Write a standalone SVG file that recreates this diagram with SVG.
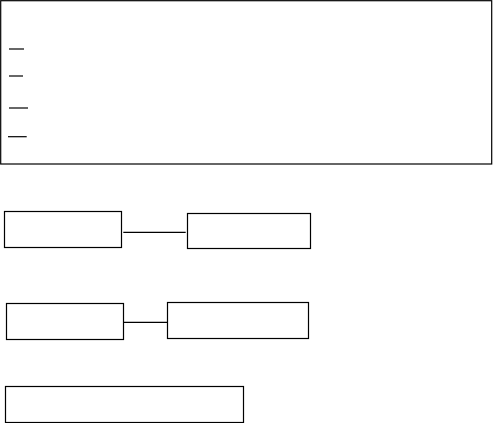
<svg xmlns="http://www.w3.org/2000/svg" width="493" height="423" viewBox="0 0 493 423">
<style>
.n{fill:#fff;stroke:#000;stroke-width:1.2}
.c{stroke:#000;stroke-width:1.2;fill:none}
</style>
<rect width="493" height="423" fill="#fff"/>
<g id="panel">
<rect class="n" x="0.7" y="0.7" width="491" height="163.3" stroke-width="1.5"/>
<line class="c" x1="9" y1="49" x2="24" y2="49"/>
<line class="c" x1="9" y1="76" x2="23" y2="76"/>
<line class="c" x1="9" y1="108" x2="28" y2="108"/>
<line class="c" x1="8" y1="136.7" x2="26.7" y2="136.7"/>
</g>
<g id="connectors">
<line class="c" x1="123.3" y1="232.3" x2="185.7" y2="232.3"/>
<line class="c" x1="123.7" y1="322.3" x2="167.3" y2="322.3"/>
</g>
<g id="nodeA"><rect class="n" x="4.5" y="211.5" width="117" height="36"/></g>
<g id="nodeB"><rect class="n" x="187.5" y="213.5" width="123" height="35"/></g>
<g id="nodeC"><rect class="n" x="6.5" y="303.5" width="117" height="36"/></g>
<g id="nodeD"><rect class="n" x="167.5" y="302.5" width="141" height="36"/></g>
<g id="nodeE"><rect class="n" x="5.5" y="386.5" width="238" height="36"/></g>
</svg>
